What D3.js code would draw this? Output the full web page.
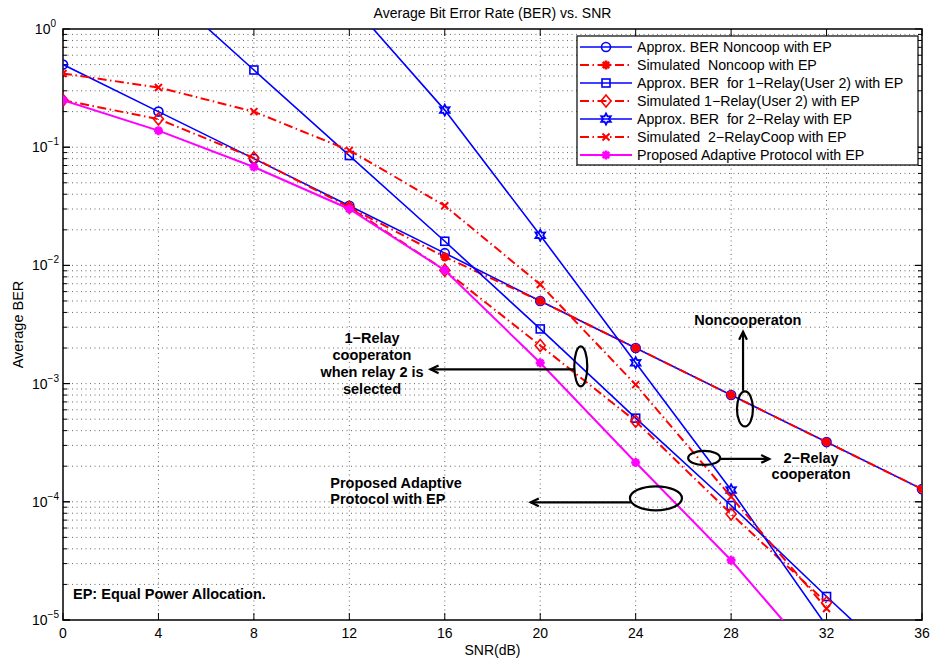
<!DOCTYPE html>
<html>
<head>
<meta charset="utf-8">
<script src="https://cdn.jsdelivr.net/npm/d3@7"></script>
<style>
  body { margin: 0; background: #fff; }
  svg { display: block; font-family: "Liberation Sans", Arial, Helvetica, sans-serif; }
  text { white-space: pre; }
</style>
</head>
<body>
<svg id="chart" width="932" height="659"></svg>
<script>
// SNR points (dB)
const snr = [0, 4, 8, 12, 16, 20, 24, 28, 32, 36];
const xTicks = [0, 4, 8, 12, 16, 20, 24, 28, 32, 36];
const yTickExps = [0, -1, -2, -3, -4, -5];

// BER curves (null = not plotted)
const approxNoncoop = [0.5, 0.2, 0.08, 0.032, 0.0127, 0.005, 0.002, 0.0008, 0.00032, 0.000128];
const simNoncoop    = [null, null, null, 0.031, 0.0118, 0.005, 0.002, 0.0008, 0.00032, 0.000128];
const approx1Relay  = [null, 2.4, 0.45, 0.085, 0.016, 0.0029, 0.00051, 0.000093, 0.0000158, 0.0000028];
const sim1Relay     = [0.25, 0.173, 0.081, 0.031, 0.0091, 0.0021, 0.00048, 0.000079, 0.000014, null];
const approx2Relay  = [null, null, null, 1.7, 0.206, 0.018, 0.0015, 0.000126, 0.0000089, null];
const sim2Relay     = [0.42, 0.32, 0.2, 0.094, 0.032, 0.0069, 0.00098, 0.00011, 0.0000125, null];
const proposed      = [0.25, 0.138, 0.068, 0.03, 0.0091, 0.0015, 0.000215, 0.000032, 0.0000037, null];

const seriesNames = [
  "Approx. BER Noncoop with EP",
  "Simulated  Noncoop with EP",
  "Approx. BER  for 1\u2212Relay(User 2) with EP",
  "Simulated 1\u2212Relay(User 2) with EP",
  "Approx. BER  for 2\u2212Relay with EP",
  "Simulated  2\u2212RelayCoop with EP",
  "Proposed Adaptive Protocol with EP"
];

const BLUE = "#0000ff", RED = "#ff0000", MAG = "#ff00ff";
const DASHDOT = "9,3.5,1.5,3.5";

const series = [
  { name: seriesNames[0], values: approxNoncoop, color: BLUE, dash: null, width: 1.6, marker: "circle" },
  { name: seriesNames[1], values: simNoncoop,    color: RED,  dash: DASHDOT, width: 2, marker: "asterisk" },
  { name: seriesNames[2], values: approx1Relay,  color: BLUE, dash: null, width: 1.6, marker: "square" },
  { name: seriesNames[3], values: sim1Relay,     color: RED,  dash: DASHDOT, width: 2, marker: "diamond" },
  { name: seriesNames[4], values: approx2Relay,  color: BLUE, dash: null, width: 1.6, marker: "hexagram" },
  { name: seriesNames[5], values: sim2Relay,     color: RED,  dash: DASHDOT, width: 2, marker: "cross" },
  { name: seriesNames[6], values: proposed,      color: MAG,  dash: null, width: 2, marker: "asterisk" }
];

const svg = d3.select("#chart");
const L = 63, R = 922, T = 29, B = 620;
const x = d3.scaleLinear().domain([0, 36]).range([L, R]);
const y = d3.scaleLog().domain([1e-5, 1]).range([B, T]);

svg.append("rect").attr("width", 932).attr("height", 659).attr("fill", "#fff");

svg.append("defs").append("clipPath").attr("id", "plotClip")
  .append("rect").attr("x", L).attr("y", T).attr("width", R - L).attr("height", B - T);

// Grid
const grid = svg.append("g").attr("stroke", "#000").attr("stroke-width", 0.8)
  .attr("stroke-dasharray", "1,3.5").attr("opacity", 0.75);
xTicks.slice(1, -1).forEach(t => {
  grid.append("line").attr("x1", x(t)).attr("x2", x(t)).attr("y1", T).attr("y2", B);
});
const minorVals = [];
for (let e = -5; e < 0; e++) for (let m = 1; m <= 9; m++) minorVals.push(m * Math.pow(10, e));
minorVals.filter(v => v > 1e-5 && v < 1).forEach(v => {
  grid.append("line").attr("x1", L).attr("x2", R).attr("y1", y(v)).attr("y2", y(v));
});

// Axes frame and ticks
const axes = svg.append("g").attr("stroke", "#000");
axes.append("rect").attr("x", L).attr("y", T).attr("width", R - L).attr("height", B - T)
  .attr("fill", "none").attr("stroke-width", 1.5);
xTicks.forEach(t => {
  axes.append("line").attr("x1", x(t)).attr("x2", x(t)).attr("y1", B).attr("y2", B - 7).attr("stroke-width", 1);
  axes.append("line").attr("x1", x(t)).attr("x2", x(t)).attr("y1", T).attr("y2", T + 7).attr("stroke-width", 1);
});
minorVals.concat(yTickExps.map(e => Math.pow(10, e))).forEach(v => {
  const major = [1, 1e-1, 1e-2, 1e-3, 1e-4, 1e-5].some(m => Math.abs(v / m - 1) < 1e-9);
  const len = major ? 7 : 4;
  axes.append("line").attr("x1", L).attr("x2", L + len).attr("y1", y(v)).attr("y2", y(v)).attr("stroke-width", 1);
  axes.append("line").attr("x1", R).attr("x2", R - len).attr("y1", y(v)).attr("y2", y(v)).attr("stroke-width", 1);
});

// Tick labels
const labels = svg.append("g").attr("fill", "#000");
xTicks.forEach(t => {
  labels.append("text").attr("x", x(t)).attr("y", B + 18).attr("text-anchor", "middle")
    .attr("font-size", 14).text(t);
});
yTickExps.forEach(e => {
  const tx = labels.append("text").attr("y", y(Math.pow(10, e)) + 5)
    .attr("text-anchor", "end").attr("font-size", 14);
  tx.append("tspan").text("10");
  tx.append("tspan").attr("font-size", 10).attr("dy", -7).text(e === 0 ? "0" : "\u2212" + (-e));
  tx.attr("x", e === 0 ? 56 : 59);
});

// Titles
svg.append("text").attr("x", (L + R) / 2).attr("y", 18).attr("text-anchor", "middle")
  .attr("font-size", 14).text("Average Bit Error Rate (BER) vs. SNR");
svg.append("text").attr("x", (L + R) / 2).attr("y", 655).attr("text-anchor", "middle")
  .attr("font-size", 14).text("SNR(dB)");
svg.append("text").attr("transform", "translate(23," + ((T + B) / 2) + ") rotate(-90)")
  .attr("text-anchor", "middle").attr("font-size", 14.5).text("Average BER");

// Marker drawing
function drawMarker(g, type, cx, cy, color) {
  const s = 4.5;
  if (type === "circle") {
    g.append("circle").attr("cx", cx).attr("cy", cy).attr("r", s).attr("fill", "none")
      .attr("stroke", color).attr("stroke-width", 1.6);
  } else if (type === "square") {
    g.append("rect").attr("x", cx - 4).attr("y", cy - 4).attr("width", 8).attr("height", 8)
      .attr("fill", "none").attr("stroke", color).attr("stroke-width", 1.6);
  } else if (type === "diamond") {
    g.append("path").attr("d", `M${cx},${cy - 6}L${cx + 5},${cy}L${cx},${cy + 6}L${cx - 5},${cy}Z`)
      .attr("fill", "none").attr("stroke", color).attr("stroke-width", 1.6);
  } else if (type === "cross") {
    g.append("path").attr("d", `M${cx - 3.5},${cy - 3.5}L${cx + 3.5},${cy + 3.5}M${cx - 3.5},${cy + 3.5}L${cx + 3.5},${cy - 3.5}`)
      .attr("stroke", color).attr("stroke-width", 2);
  } else if (type === "asterisk") {
    let d = "";
    for (let k = 0; k < 4; k++) {
      const a = k * Math.PI / 4;
      const dx = Math.cos(a) * s, dy = Math.sin(a) * s;
      d += `M${cx - dx},${cy - dy}L${cx + dx},${cy + dy}`;
    }
    g.append("path").attr("d", d).attr("stroke", color).attr("stroke-width", 2.6);
    g.append("circle").attr("cx", cx).attr("cy", cy).attr("r", 2.8).attr("fill", color);
  } else if (type === "hexagram") {
    const pts = [];
    for (let k = 0; k < 12; k++) {
      const a = -Math.PI / 2 + k * Math.PI / 6;
      const r = k % 2 === 0 ? 5.5 : 3;
      pts.push([cx + r * Math.cos(a), cy + r * Math.sin(a)]);
    }
    g.append("path").attr("d", "M" + pts.map(p => p.join(",")).join("L") + "Z")
      .attr("fill", "none").attr("stroke", color).attr("stroke-width", 1.8);
  }
}

// Curves
const plot = svg.append("g").attr("clip-path", "url(#plotClip)");
const lineGen = d3.line().defined(d => d[1] !== null).x(d => x(d[0])).y(d => y(d[1]));
series.forEach(s => {
  const pts = snr.map((v, i) => [v, s.values[i]]);
  const g = plot.append("g");
  g.append("path").datum(pts).attr("d", lineGen).attr("fill", "none")
    .attr("stroke", s.color).attr("stroke-width", s.width)
    .attr("stroke-dasharray", s.dash);
  pts.filter(d => d[1] !== null && d[1] >= 1e-5 && d[1] <= 1)
    .forEach(d => drawMarker(g, s.marker, x(d[0]), y(d[1]), s.color));
});

// Annotations
const ann = svg.append("g").attr("stroke", "#000").attr("fill", "none").attr("stroke-width", 2.2);
function arrow(x1, y1, x2, y2) {
  ann.append("line").attr("x1", x1).attr("y1", y1).attr("x2", x2).attr("y2", y2);
  const a = Math.atan2(y2 - y1, x2 - x1), h = 9, w = 0.45;
  ann.append("path").attr("d",
    `M${x2 - h * Math.cos(a - w)},${y2 - h * Math.sin(a - w)}L${x2},${y2}L${x2 - h * Math.cos(a + w)},${y2 - h * Math.sin(a + w)}`);
}
function ellipse(cx, cy, rx, ry) {
  ann.append("ellipse").attr("cx", cx).attr("cy", cy).attr("rx", rx).attr("ry", ry);
}
const txt = svg.append("g").attr("font-size", 14.5).attr("font-weight", "bold").attr("fill", "#000");
function label(lines, px, py, anchor, lh) {
  lines.forEach((t, i) => txt.append("text").attr("x", px).attr("y", py + i * lh)
    .attr("text-anchor", anchor).text(t));
}

// Noncooperation
ellipse(x(28.58), y(6.1e-4), 8, 17.5);
arrow(x(28.5), y(8.7e-4), x(28.5), y(2.75e-3));
label(["Noncooperaton"], x(28.7), y(2.95e-3) - 3, "middle", 0);

// 2-Relay cooperation
ellipse(x(26.87), y(2.35e-4), 16, 7);
arrow(x(27.55), y(2.35e-4) + 1, x(29.6), y(2.35e-4) + 1);
label(["2\u2212Relay", "cooperaton"], x(31.35), y(2.35e-4) + 5, "middle", 16.5);

// 1-Relay cooperation
ellipse(x(21.7), y(1.4e-3), 6.5, 20);
arrow(x(21.45), y(1.4e-3) + 3, x(15.4), y(1.4e-3) + 3);
label(["1\u2212Relay", "cooperaton", "when relay 2 is", "selected"], x(12.95), 343, "middle", 17);

// Proposed adaptive protocol
ellipse(x(24.85), y(1.07e-4), 26, 12);
arrow(x(23.8), y(1.07e-4) + 4, x(19.6), y(1.07e-4) + 4);
label(["Proposed Adaptive", "Protocol with EP"], x(11.2), 488, "start", 15.5);

label(["EP: Equal Power Allocation."], x(0.42), 599, "start", 0);

// Legend
const lg = svg.append("g");
lg.append("rect").attr("x", 577).attr("y", 36).attr("width", 341).attr("height", 129)
  .attr("fill", "#fff").attr("stroke", "#000").attr("stroke-width", 1.2);
series.forEach((s, i) => {
  const ly = 47 + i * 18;
  lg.append("line").attr("x1", 580).attr("x2", 632).attr("y1", ly).attr("y2", ly)
    .attr("stroke", s.color).attr("stroke-width", s.width).attr("stroke-dasharray", s.dash);
  drawMarker(lg, s.marker, 606, ly, s.color);
  lg.append("text").attr("x", 637).attr("y", ly + 5).attr("font-size", 14.2).text(s.name);
});
</script>
</body>
</html>
